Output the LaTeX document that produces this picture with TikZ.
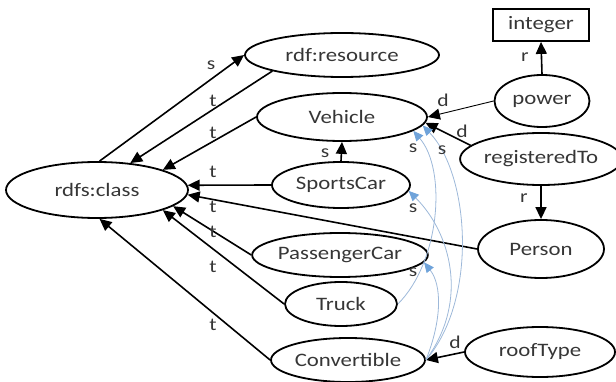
\documentclass[tikz,border=0pt]{standalone}
\usepackage{fontspec}
\setmainfont{Carlito}[FakeStretch=1.2]
\usetikzlibrary{shapes.geometric,arrows.meta}
\definecolor{blueline}{HTML}{9DB8D9}
\definecolor{bluetip}{HTML}{6FA3DA}
\definecolor{txt}{HTML}{363636}
\begin{document}
\begin{tikzpicture}[x=1pt,y=-1pt,
  ell/.style={ellipse,draw,line width=1.8pt,inner sep=0pt,font=\fontsize{19}{19}\selectfont,text=txt},
  boxnode/.style={rectangle,draw,line width=1.8pt,inner sep=0pt,font=\fontsize{19}{19}\selectfont,text=txt},
  edge/.style={line width=1.6pt,-{Triangle[length=12pt,width=11pt]}},
  bedge/.style={draw=blueline,line width=0.8pt,-{Triangle[length=10pt,width=9pt,color=bluetip,fill=bluetip]}},
  lbl/.style={font=\fontsize{18}{18}\selectfont,text=txt,inner sep=0pt}]
\useasboundingbox (0,0) rectangle (616,382);
% nodes
\node[ell,minimum width=182pt,minimum height=56pt] (rc) at (97,190) {rdfs:class};
\node[ell,minimum width=194pt,minimum height=44pt] (rr) at (342,55) {rdf:resource};
\node[ell,minimum width=170pt,minimum height=48pt] (veh) at (342,117) {Vehicle};
\node[ell,minimum width=138pt,minimum height=46pt] (sc) at (341,185) {SportsCar};
\node[ell,minimum width=166pt,minimum height=44pt] (pc) at (340,255) {PassengerCar};
\node[ell,minimum width=112pt,minimum height=44pt] (tr) at (341,304) {Truck};
\node[ell,minimum width=154pt,minimum height=44pt] (cv) at (348,360) {Convertible};
\node[boxnode,minimum width=96pt,minimum height=32pt] (int) at (541,25) {integer};
\node[ell,minimum width=95pt,minimum height=52pt] (pw) at (542,101) {power};
\node[ell,minimum width=148pt,minimum height=52pt] (rt) at (541,159) {registeredTo};
\node[ell,minimum width=126pt,minimum height=58pt] (ps) at (541,249) {Person};
\node[ell,minimum width=150pt,minimum height=50pt] (rf) at (540,352) {roofType};
% black connectors
\draw[edge] (rc.85) -- (rr.180);
\draw[edge] (rr.193) -- (rc.39);
\draw[edge] (veh.west) -- (rc.17);
\draw[edge] (sc.west) -- (rc.3);
\draw[edge] (ps.west) -- (rc.-3);
\draw[edge] (pc.west) -- (rc.-12);
\draw[edge] (tr.west) -- (rc.-17);
\draw[edge] (cv.west) -- (rc.-85);
\draw[edge] (sc.north) -- (veh.south);
\draw[edge] (pw.north) -- (int.south);
\draw[edge,line width=0.9pt] (pw.west) -- (veh.east);
\draw[edge] (rt.169) -- (veh.-4);
\draw[edge] (rt.south) -- (ps.north);
\draw[edge] (rf.west) -- (cv.east);
% blue connectors
\draw[bedge] (tr.east) .. controls (440,262) and (447,170) .. (veh.-11);
\draw[bedge] (cv.east) .. controls (478,300) and (470,175) .. (veh.-6);
\draw[bedge] (cv.east) .. controls (470,300) and (450,232) .. (sc.-5);
\draw[bedge] (cv.east) .. controls (442,320) and (442,285) .. (pc.-5);
% labels
\node[lbl] (l1) at (211,65) {s};
\node[lbl] (l2) at (213,101) {t};
\node[lbl] (l3) at (213,133) {t};
\node[lbl] (l4) at (213,172) {t};
\node[lbl] (l5) at (213,207) {t};
\node[lbl] (l6) at (213,232) {t};
\node[lbl] (l7) at (213,267) {t};
\node[lbl] (l8) at (213,325) {t};
\node[lbl] (l9) at (325,153) {s};
\node[lbl] (l10) at (525,57) {r};
\node[lbl] (l11) at (443,100) {d};
\node[lbl] (l12) at (462,131) {d};
\node[lbl] (l13) at (524,198) {r};
\node[lbl] (l14) at (455,342) {d};
\node[lbl] (l15) at (413,148) {s};
\node[lbl] (l16) at (442,150) {s};
\node[lbl] (l17) at (413,208) {s};
\node[lbl] (l18) at (413,272) {s};
\end{tikzpicture}
\end{document}
